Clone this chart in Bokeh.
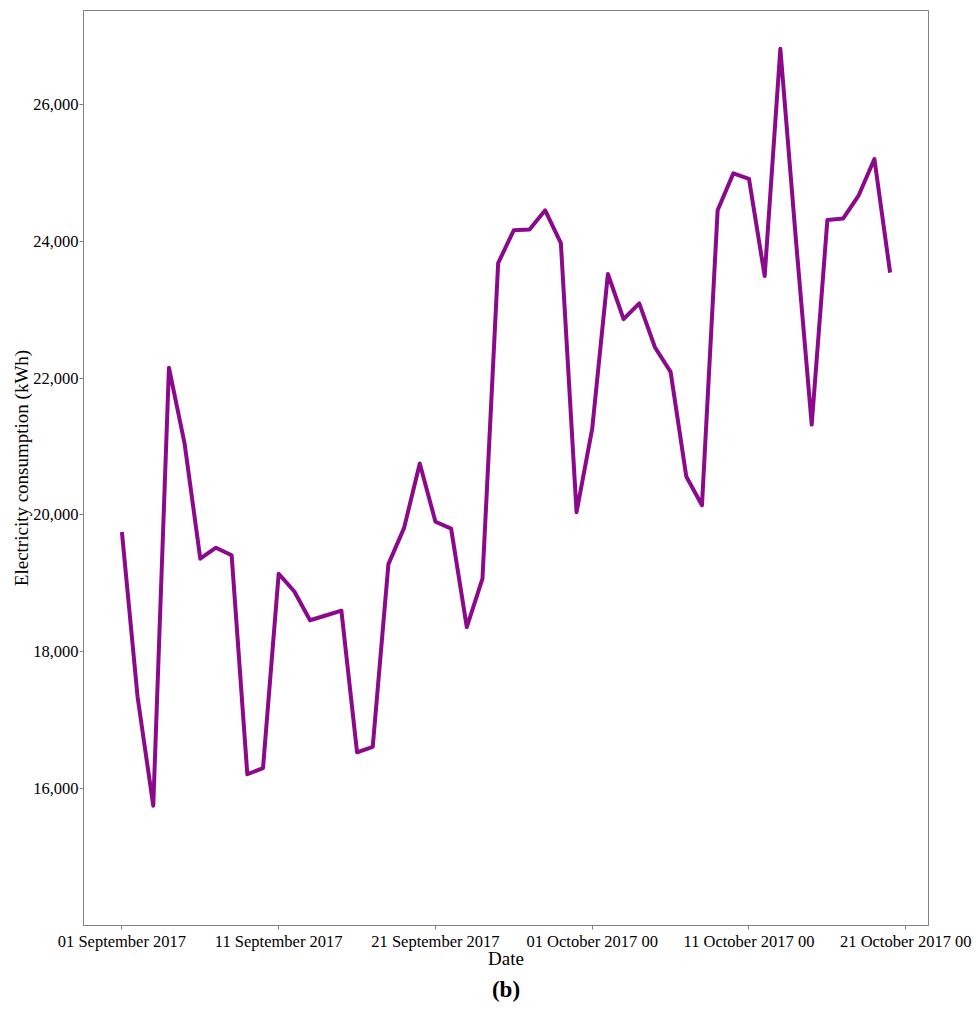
import pandas as pd
from bokeh.plotting import figure
from bokeh.models import Range1d, FixedTicker, NumeralTickFormatter, Title
from bokeh.embed import file_html
from bokeh.resources import INLINE

# ---- data ----
start_date = "2017-09-01"
consumption = [19750, 17340, 15750, 22150, 21040, 19360, 19520, 19410, 16210, 16300,
               19140, 18880, 18460, 18530, 18600, 16530, 16610, 19280, 19810, 20750,
               19900, 19800, 18360, 19070, 23680, 24160, 24170, 24450, 23970, 20040,
               21260, 23520, 22860, 23090, 22450, 22090, 20560, 20140, 24450, 24990,
               24910, 23490, 26810, 24000, 21320, 24310, 24330, 24670, 25200, 23540]
x_tick_dates = ["2017-09-01", "2017-09-11", "2017-09-21", "2017-10-01", "2017-10-11", "2017-10-21"]
x_tick_labels = ["01 September 2017", "11 September 2017", "21 September 2017",
                 "01 October 2017 00", "11 October 2017 00", "21 October 2017 00"]
y_ticks = [16000, 18000, 20000, 22000, 24000, 26000]
y_min, y_max = 14000, 27370

dates = pd.date_range(start_date, periods=len(consumption), freq="D")

def ms(ts):
    return pd.Timestamp(ts).value / 1e6

x0 = ms(dates[0])
x1 = ms(dates[-1])
pad = (x1 - x0) * 0.05

FONT = "Liberation Serif"
GREY = "#808080"

p = figure(width=978, height=1008, x_axis_type="datetime",
           x_range=Range1d(x0 - pad, x1 + pad), y_range=Range1d(y_min, y_max),
           output_backend="svg", toolbar_location=None,
           min_border_left=83, min_border_right=50, min_border_top=10, min_border_bottom=83)

p.line(dates, consumption, line_color="#8B0A8B", line_width=4, line_join="round")

p.xgrid.visible = False
p.ygrid.visible = False
p.outline_line_color = GREY
p.outline_line_width = 1
p.background_fill_color = "white"
p.border_fill_color = "white"

tick_ms = [ms(d) for d in x_tick_dates]
p.xaxis.ticker = FixedTicker(ticks=tick_ms, minor_ticks=[])
p.xaxis.major_label_overrides = {t: lab for t, lab in zip(tick_ms, x_tick_labels)}
p.yaxis.ticker = FixedTicker(ticks=y_ticks, minor_ticks=[])
p.yaxis.formatter = NumeralTickFormatter(format="0,0")

for ax in (p.xaxis[0], p.yaxis[0]):
    ax.axis_line_color = GREY
    ax.major_tick_line_color = GREY
    ax.major_tick_out = 4
    ax.major_tick_in = 0
    ax.minor_tick_line_color = None
    ax.major_label_text_font = FONT
    ax.major_label_text_font_size = "16.5px"
    ax.major_label_text_color = "black"
    ax.axis_label_text_font = FONT
    ax.axis_label_text_font_size = "19px"
    ax.axis_label_text_font_style = "normal"
    ax.axis_label_text_color = "black"

p.xaxis.axis_label = "Date"
p.yaxis.axis_label = "Electricity consumption (kWh)"
p.xaxis.major_label_standoff = 2
p.xaxis.axis_label_standoff = -6
p.yaxis.major_label_standoff = 1
p.yaxis.axis_label_standoff = -2

cap = Title(text="(b)", align="center", text_font=FONT, text_font_size="23px",
            text_font_style="bold", text_color="black", standoff=6)
p.add_layout(cap, "below")

open("out.html", "w").write(file_html(p, INLINE))
